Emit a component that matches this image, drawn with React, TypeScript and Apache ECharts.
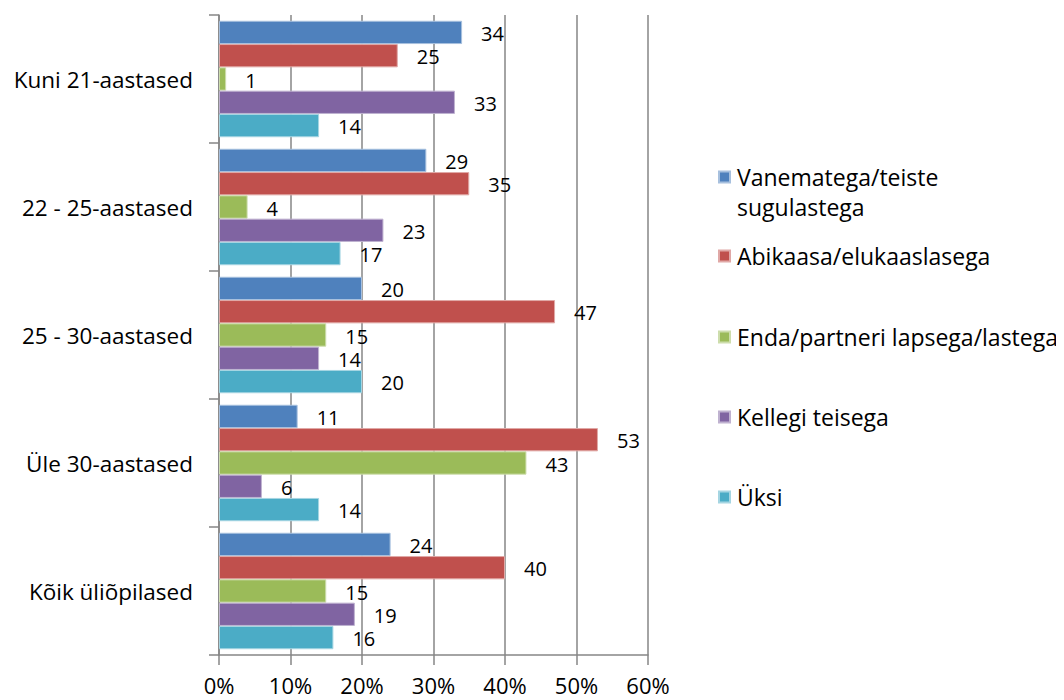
import React, { useEffect, useRef } from "react";
import * as echarts from "echarts";

const categories = [
  "Kuni 21-aastased",
  "22 - 25-aastased",
  "25 - 30-aastased",
  "Üle 30-aastased",
  "Kõik üliõpilased",
];
const seriesNames = [
  "Vanematega/teiste sugulastega",
  "Abikaasa/elukaaslasega",
  "Enda/partneri lapsega/lastega",
  "Kellegi teisega",
  "Üksi",
];
const vanematega = [34, 29, 20, 11, 24];
const abikaasa = [25, 35, 47, 53, 40];
const lapsega = [1, 4, 15, 43, 15];
const kellegi = [33, 23, 14, 6, 19];
const uksi = [14, 17, 20, 14, 16];
const colors = ["#4F81BD", "#C0504D", "#9BBB59", "#8064A2", "#4BACC6"];
const borderColors = ["#A7C0DE", "#E0A8A6", "#CDDDAC", "#BFB2D0", "#A5D5E2"];
const xTicks = [0, 10, 20, 30, 40, 50, 60];
const legendTops = [156, 235, 316, 396, 476];

const FONT = "Open Sans";

export default function App() {
  const ref = useRef<HTMLDivElement>(null);
  useEffect(() => {
    if (!ref.current) return;
    const chart = echarts.init(ref.current, undefined, { renderer: "svg" });
    const values = [vanematega, abikaasa, lapsega, kellegi, uksi];
    const legends = seriesNames.map((n, i) => ({
      orient: "vertical",
      left: 713,
      top: legendTops[i],
      data: [n],
      itemWidth: 11,
      itemHeight: 11,
      itemGap: 0,
      icon: "rect",
      selectedMode: false,
      formatter: (name: string) =>
        name === "Vanematega/teiste sugulastega" ? "Vanematega/teiste" : name,
      textStyle: { fontFamily: FONT, fontSize: 23, color: "#000", lineHeight: 32, padding: [0, 0, 0, 2] },
    }));
    chart.setOption({
      animation: false,
      color: colors,
      legend: legends,
      graphic: [
        {
          type: "text",
          left: 737,
          top: 195,
          style: { text: "sugulastega", font: `23px "${FONT}"`, fill: "#000" },
        },
      ],
      grid: { left: 219, right: 416, top: 15, bottom: 45, containLabel: false },
      xAxis: {
        type: "value",
        min: xTicks[0],
        max: xTicks[xTicks.length - 1],
        interval: 10,
        axisLine: { show: true, lineStyle: { color: "#868686", width: 1.5 } },
        axisTick: { show: true, length: 10, lineStyle: { color: "#868686", width: 1.5 } },
        splitLine: { show: true, lineStyle: { color: "#868686", width: 1.5 } },
        axisLabel: {
          formatter: "{value}%",
          fontFamily: FONT,
          fontSize: 22,
          lineHeight: 24,
          color: "#000",
          margin: 18,
        },
      },
      yAxis: {
        type: "category",
        inverse: true,
        data: categories,
        axisLine: { show: true, lineStyle: { color: "#868686", width: 1.5 } },
        axisTick: { show: true, length: 10, lineStyle: { color: "#868686", width: 1.5 } },
        axisLabel: { fontFamily: FONT, fontSize: 22.5, color: "#000", margin: 26 },
      },
      series: seriesNames.map((n, i) => ({
        name: n,
        type: "bar",
        data: values[i],
        barGap: "0%",
        barCategoryGap: "9%",
        itemStyle: { color: colors[i], borderColor: borderColors[i], borderWidth: 1 },
        label: {
          show: true,
          position: "right",
          distance: 19,
          offset: [0, 1],
          fontFamily: FONT,
          fontSize: 20,
          color: "#000",
        },
      })),
    });
    return () => chart.dispose();
  }, []);
  return <div ref={ref} style={{ width: 1064, height: 700, marginLeft: -8, marginTop: -8 }} />;
}
